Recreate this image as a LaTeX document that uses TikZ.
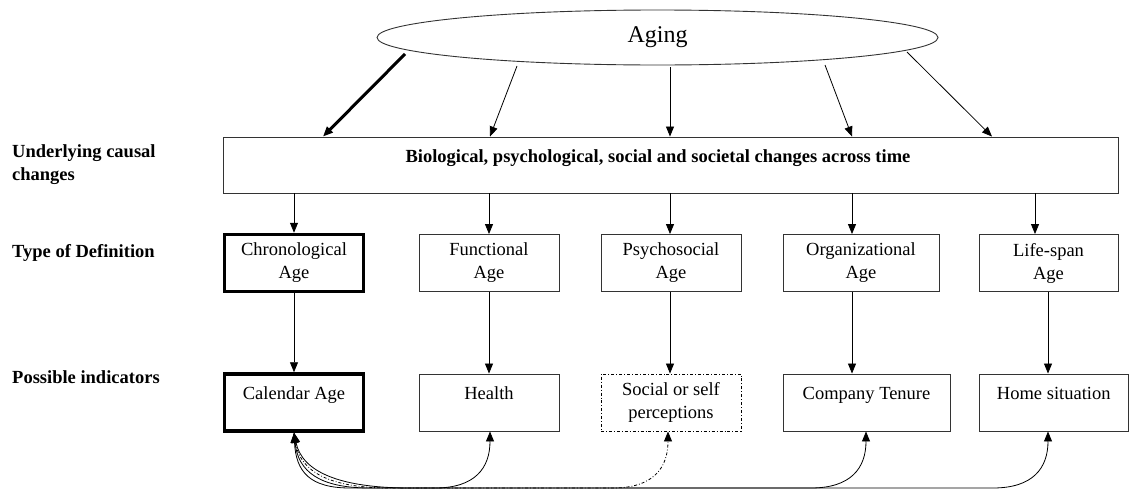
\documentclass[tikz,border=0pt]{standalone}
\usepackage{fontspec}
\setmainfont{Liberation Serif}
\usetikzlibrary{arrows.meta,shapes.geometric,calc}
\newcommand{\boxfont}{\fontsize{18.5}{23}\selectfont}
\tikzset{arr/.style={-{Triangle[length=10pt,width=8pt]}, line width=.8pt}, twoarr/.style={{Triangle[length=10pt,width=8pt]}-{Triangle[length=10pt,width=8pt]}, line width=.8pt}, box/.style={draw=black!80, line width=.9pt, minimum width=140pt, minimum height=57pt, inner sep=0pt, align=center, font=\boxfont}, heavy/.style={line width=3.5pt, draw=black, minimum width=139pt}, topline/.style={text height=25pt, text depth=32pt}, lab/.style={font=\boxfont\bfseries, inner sep=0pt, align=left}}

\begin{document}
\begin{tikzpicture}[x=1pt,y=-1pt]
\useasboundingbox (0,0) rectangle (1129,490);
\node[ellipse, draw=black!80, line width=.9pt, minimum width=561pt, minimum height=55pt, inner sep=0pt, font=\fontsize{24}{28}\selectfont] (aging) at (657.5,37.5) {Aging};
\node[box, minimum width=895pt, minimum height=56pt, text height=25pt, text depth=31pt, font=\boxfont\bfseries] (cause) at (670.5,165) {Biological, psychological, social and societal changes across time\hspace*{25pt}};
% type of definition
\node[box, heavy] (chrono) at (294,263) {Chronological\\Age};
\node[box] (func) at (489,263) {Functional\\Age};
\node[box] (psych) at (671,263) {Psychosocial\\Age};
\node[box, minimum width=156pt] (org) at (861,263) {Organizational\\Age};
\node[box, minimum width=139pt] (life) at (1048.5,263) {Life-span\\Age};
% possible indicators
\node[box, heavy, topline] (cal) at (294,402.5) {Calendar Age};
\node[box, topline] (health) at (489,402.5) {Health};
\node[box, draw=black, dash dot] (social) at (671,402.5) {Social or self\\perceptions};
\node[box, topline, minimum width=167pt] (tenure) at (866.5,402.5) {Company Tenure};
\node[box, topline, minimum width=149.5pt] (home) at (1053.75,402.5) {Home situation};
% row labels
\node[lab, anchor=west] (lcause) at (12,165) {Underlying causal\\changes};
\node[lab, anchor=base west] (ltype) at (12,257) {Type of Definition};
\node[lab, anchor=base west] (lind) at (12,383) {Possible indicators};
% connectors
\draw[arr, line width=3pt] ($(aging.center)+(-252.5,16.5)$) -- (323,0 |- cause.north);
\foreach \dx/\dy/\x in {-140.5/28.5/490, 12.5/29.5/670, 167.5/27.5/852, 249.5/14.5/992} \draw[arr] ($(aging.center)+(\dx,\dy)$) -- (\x,0 |- cause.north);
\foreach \x/\n in {294/chrono, 489/func, 670/psych, 852/org, 1035/life} \draw[arr] (\x,0 |- cause.south) -- (\x,0 |- \n.north);
\foreach \x/\n/\m in {294/chrono/cal, 489/func/health, 670/psych/social, 852/org/tenure, 1048/life/home} \draw[arr] (\x,0 |- \n.south) -- (\x,0 |- \m.north);
\foreach \n/\x/\k/\sty in {health/490/0/solid, tenure/866/1/solid, social/668/2/dash dot, home/1048/3/solid}
  \draw[twoarr, \sty] (cal.south) .. controls (296+2*\k,472) and (310+10*\k,488) .. (350+20*\k,488) -- (\x-55,488) .. controls (\x-15,488) and (\x,468) .. (\x,0 |- \n.south);
\end{tikzpicture}
\end{document}
